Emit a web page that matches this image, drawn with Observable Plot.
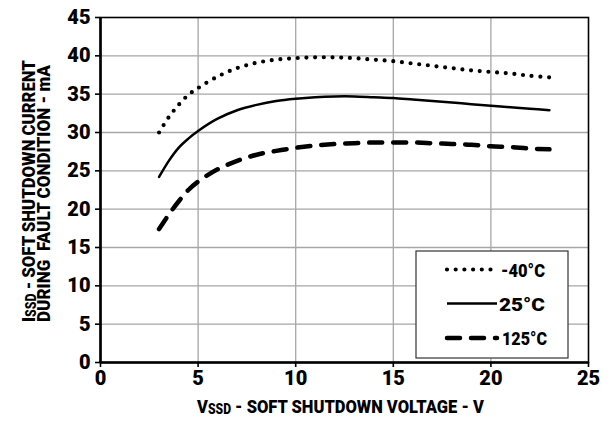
<!DOCTYPE html>
<html>
<head>
<meta charset="utf-8">
<script src="https://cdn.jsdelivr.net/npm/d3@7"></script>
<script src="https://cdn.jsdelivr.net/npm/@observablehq/plot@0.6"></script>
<style>
  html, body { margin: 0; padding: 0; background: #fff; }
  #chart svg { display: block; }
</style>
</head>
<body>
<div id="chart"></div>
<script>
// Soft shutdown current vs. soft shutdown voltage, three temperatures
const vssd = [3, 3.5, 4, 4.5, 5, 6, 7, 8, 9, 10, 11, 12, 13, 14, 15, 16, 17, 18, 19, 20, 21, 22, 23];
const issdCold = [30.0, 32.0, 33.6, 34.9, 35.8, 37.3, 38.4, 39.1, 39.5, 39.7, 39.8, 39.8, 39.7, 39.5, 39.3, 39.0, 38.7, 38.4, 38.1, 37.9, 37.7, 37.4, 37.2];
const issdRoom = [24.2, 26.3, 28.0, 29.2, 30.2, 31.8, 32.9, 33.6, 34.1, 34.4, 34.6, 34.7, 34.7, 34.6, 34.5, 34.3, 34.1, 33.9, 33.7, 33.5, 33.3, 33.1, 32.9];
const issdHot  = [17.4, 19.3, 21.0, 22.5, 23.6, 25.2, 26.3, 27.1, 27.6, 28.0, 28.3, 28.5, 28.6, 28.7, 28.7, 28.7, 28.6, 28.5, 28.4, 28.2, 28.1, 27.9, 27.8];
const seriesNames = ["-40°C", "25°C", "125°C"];
const xTicks = [0, 5, 10, 15, 20, 25];
const yTicks = [0, 5, 10, 15, 20, 25, 30, 35, 40, 45];

const FONT = 'Roboto, "Liberation Sans", sans-serif';
const HEAVY = 900;

// line styles per series: dotted, solid, dashed
const styles = [
  {stroke: "#000", strokeWidth: 4.2, strokeDasharray: "0 8.7", strokeLinecap: "round"},
  {stroke: "#000", strokeWidth: 2.5},
  {stroke: "#000", strokeWidth: 4.5, strokeDasharray: "13 11", strokeLinecap: "round"}
];

const rows = [issdCold, issdRoom, issdHot].map((vals, s) =>
  vssd.map((v, i) => ({v, i: vals[i], s}))
);

const plot = Plot.plot({
  width: 614,
  height: 423,
  marginLeft: 100,
  marginRight: 26,
  marginTop: 17,
  marginBottom: 61,
  style: {fontFamily: FONT, fontSize: "19px", fontWeight: "bold", color: "#000", background: "#fff"},
  x: {domain: [0, 25]},
  y: {domain: [0, 45]},
  marks: [
    Plot.gridX(xTicks.filter(d => d > 0 && d < 25), {stroke: "#a6a6a6", strokeOpacity: 1, strokeWidth: 1.3}),
    Plot.gridY(yTicks.filter(d => d > 0 && d < 45), {stroke: "#a6a6a6", strokeOpacity: 1, strokeWidth: 1.3}),
    Plot.frame({stroke: "#000", strokeWidth: 1.6}),
    Plot.axisX(xTicks, {tickSize: 5, tickPadding: 3, strokeWidth: 1.6, label: null, fontSize: 20, fontWeight: HEAVY}),
    Plot.axisY(yTicks, {tickSize: 5, tickPadding: 5, strokeWidth: 1.6, label: null, fontSize: 20, fontWeight: HEAVY}),
    Plot.ruleX([0], {stroke: "#000", strokeWidth: 2.6}),
    Plot.ruleY([0], {stroke: "#000", strokeWidth: 2.6}),
    ...rows.map((r, s) => Plot.line(r, {x: "v", y: "i", curve: "catmull-rom", ...styles[s]}))
  ]
});

document.getElementById("chart").appendChild(plot);

const svg = d3.select(plot);

// Places a condensed text: natural-width text squeezed horizontally to span `len` px,
// starting at (x, y) along its baseline, optionally rotated.
function squeezed(parent, x, y, len, rotate, size, build) {
  const g = parent.append("g");
  const t = g.append("text")
    .attr("text-anchor", "start")
    .attr("xml:space", "preserve")
    .style("font-family", FONT).style("font-weight", HEAVY).style("font-size", size + "px");
  build(t);
  const natural = t.node().getComputedTextLength();
  const sx = natural > 0 ? len / natural : 1;
  g.attr("transform", `translate(${x},${y}) rotate(${rotate}) scale(${sx},1)`);
  return t;
}

// x-axis title with subscript
squeezed(svg, 197, 413, 287, 0, 19, t => {
  t.append("tspan").text("V");
  t.append("tspan").attr("font-size", "14px").attr("dy", 1).text("SSD");
  t.append("tspan").attr("dy", -1).text(" - SOFT SHUTDOWN VOLTAGE - V");
});

// y-axis title, two rotated lines reading upward
squeezed(svg, 35, 322, 262, -90, 19, t => {
  t.append("tspan").text("I");
  t.append("tspan").attr("font-size", "14px").attr("dy", 1).text("SSD");
  t.append("tspan").attr("dy", -1).text(" - SOFT SHUTDOWN CURRENT");
});
squeezed(svg, 50, 322, 257, -90, 19, t => t.text("DURING  FAULT CONDITION - mA"));

// legend box
const lg = svg.append("g");
lg.append("rect")
  .attr("x", 416).attr("y", 251).attr("width", 152).attr("height", 107)
  .attr("fill", "#fff").attr("stroke", "#333").attr("stroke-width", 1.2);
const legendRows = [
  {ly: 269.5, x2: 494, tx: 501, tw: 44},
  {ly: 303.5, x2: 497, tx: 499, tw: 46},
  {ly: 338, x2: 497, tx: 502, tw: 45}
];
seriesNames.forEach((name, s) => {
  const {ly, x2, tx, tw} = legendRows[s];
  const st = styles[s];
  lg.append("line")
    .attr("x1", 447).attr("x2", x2)
    .attr("y1", ly).attr("y2", ly)
    .attr("stroke", st.stroke).attr("stroke-width", st.strokeWidth)
    .attr("stroke-dasharray", st.strokeDasharray || null)
    .attr("stroke-linecap", st.strokeLinecap || null);
  squeezed(lg, tx, ly + 7, tw, 0, 18, t => t.text(name));
});
</script>
</body>
</html>
